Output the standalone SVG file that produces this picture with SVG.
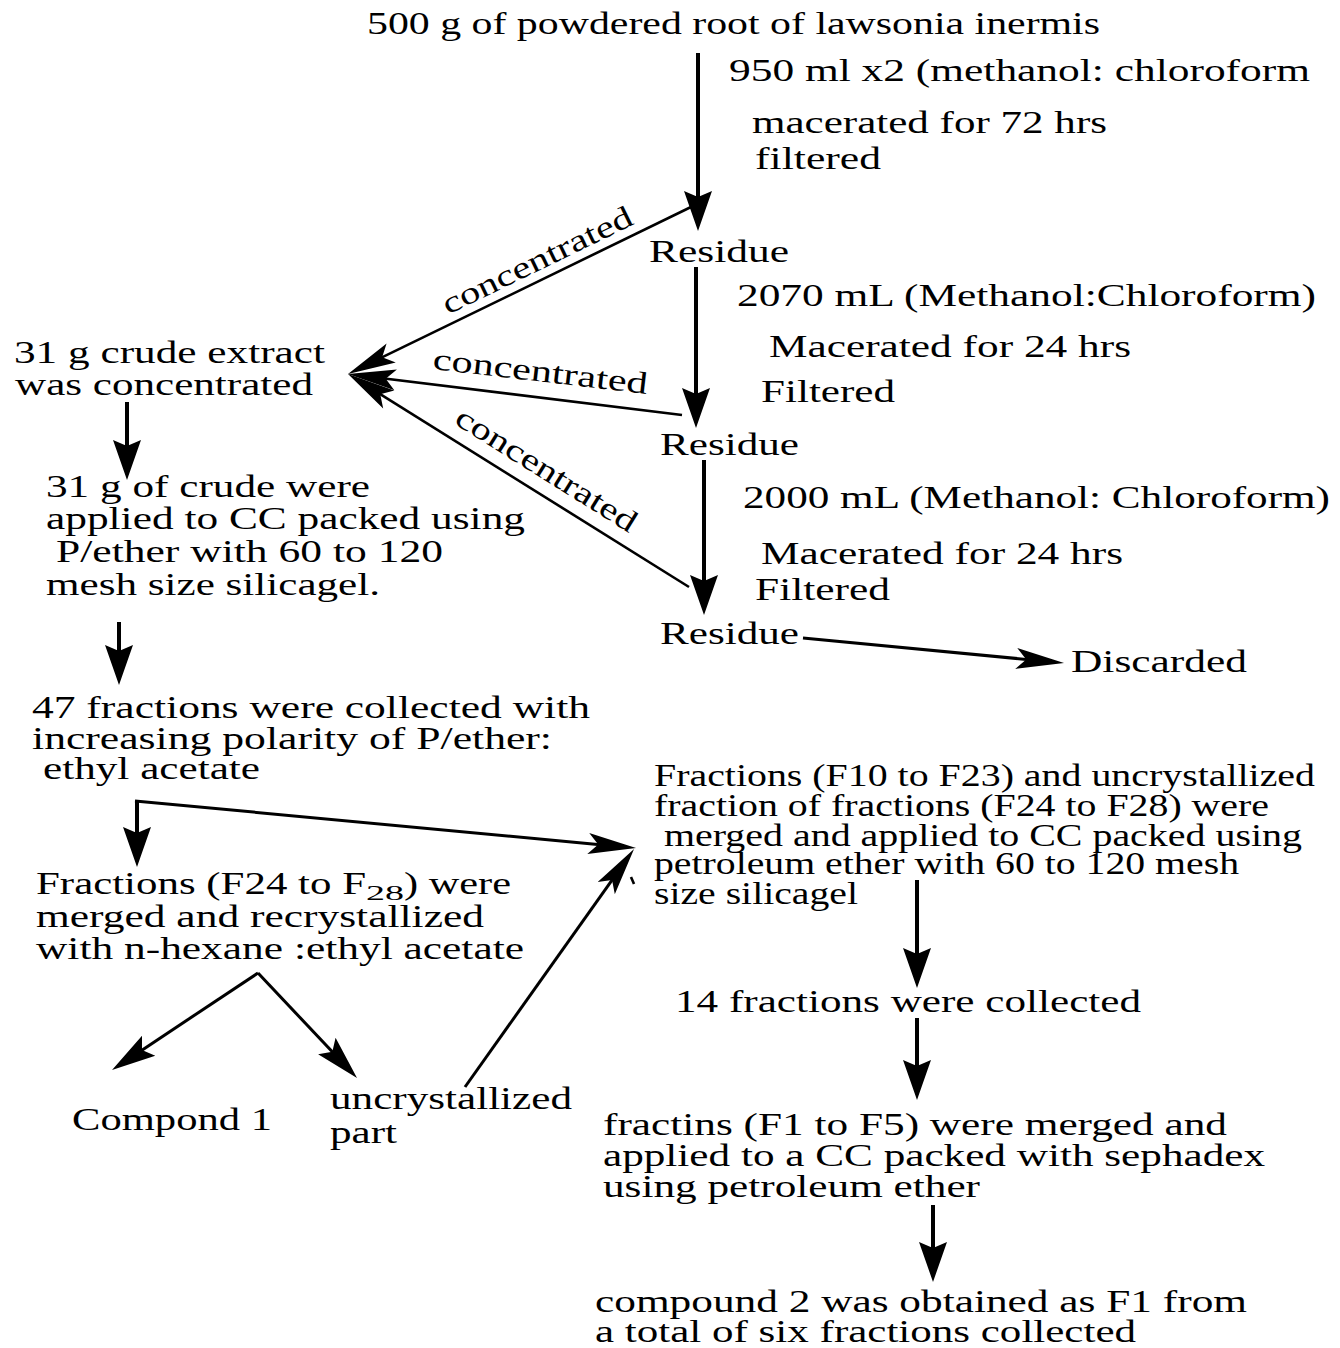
<svg xmlns="http://www.w3.org/2000/svg" width="1340" height="1348" viewBox="0 0 1340 1348">
<style>
text{font-family:"Liberation Serif","Times New Roman",serif;font-size:31px;fill:#000}
.sub{font-size:22px}
.c{fill:none;stroke:#000;stroke-linecap:butt}
.w4{stroke-width:4}
.w3{stroke-width:3}
.w2{stroke-width:2.6}
</style>
<defs>
<marker id="big" markerUnits="userSpaceOnUse" orient="auto" refX="28" refY="0" markerWidth="40" markerHeight="28" overflow="visible"><path d="M0,-14 L40,0 L0,14 L6,0 Z" fill="#000"/></marker>
<marker id="thin" markerUnits="userSpaceOnUse" orient="auto" refX="36" refY="0" markerWidth="48" markerHeight="21" overflow="visible"><path d="M0,-10.5 L48,0 L0,10.5 L10,0 Z" fill="#000"/></marker>
<marker id="mid" markerUnits="userSpaceOnUse" orient="auto" refX="32" refY="0" markerWidth="44" markerHeight="24" overflow="visible"><path d="M0,-12 L44,0 L0,12 L8,0 Z" fill="#000"/></marker>
</defs>
<rect width="1340" height="1348" fill="#fff"/>

<g id="connectors">
<path class="c w4" d="M698,53 L698,219" marker-end="url(#big)"/>
<path class="c w4" d="M696,267 L696,416" marker-end="url(#big)"/>
<path class="c w4" d="M704,460 L704,603" marker-end="url(#big)"/>
<path class="c w2" d="M691,207 L358.8,368.7" marker-end="url(#thin)"/>
<path class="c w2" d="M682,415 L359.9,375.5" marker-end="url(#thin)"/>
<path class="c w2" d="M689,587 L358.2,380.4" marker-end="url(#thin)"/>
<path class="c w3" d="M803,638 L1052.1,661.9" marker-end="url(#thin)"/>
<path class="c w4" d="M127,402 L127,468" marker-end="url(#big)"/>
<path class="c w4" d="M119,622 L119,673" marker-end="url(#big)"/>
<path class="c w4" d="M137,801 L137,855" marker-end="url(#big)"/>
<path class="c w3" d="M135,801 L624.1,846.9" marker-end="url(#thin)"/>
<path class="c w3" d="M465,1087 L627.1,858.8" marker-end="url(#thin)"/>
<path class="c w2" d="M631,877 L634,884"/>
<path class="c w3" d="M258,973 L122,1063.4" marker-end="url(#mid)"/>
<path class="c w3" d="M258,973 L348.8,1069.3" marker-end="url(#mid)"/>
<path class="c w4" d="M917,880 L917,976" marker-end="url(#big)"/>
<path class="c w4" d="M917,1018 L917,1088" marker-end="url(#big)"/>
<path class="c w4" d="M933,1205 L933,1270" marker-end="url(#big)"/>
<text transform="translate(448,315) rotate(-26)" textLength="208" lengthAdjust="spacingAndGlyphs">concentrated</text>
<text transform="translate(432,369) rotate(6.6)" textLength="216" lengthAdjust="spacingAndGlyphs">concentrated</text>
<text transform="translate(453,423) rotate(32)" textLength="208" lengthAdjust="spacingAndGlyphs">concentrated</text>
</g>

<g id="start">
<text x="367" y="34" textLength="733" lengthAdjust="spacingAndGlyphs">500 g of powdered root of lawsonia inermis</text>
</g>
<g id="step1">
<text x="729" y="81" textLength="581" lengthAdjust="spacingAndGlyphs">950 ml x2 (methanol: chloroform</text>
<text x="752" y="133" textLength="355" lengthAdjust="spacingAndGlyphs">macerated for 72 hrs</text>
<text x="755" y="169" textLength="126" lengthAdjust="spacingAndGlyphs">filtered</text>
</g>
<g id="residue1">
<text x="649" y="262" textLength="140" lengthAdjust="spacingAndGlyphs">Residue</text>
</g>
<g id="step2">
<text x="737" y="306" textLength="579" lengthAdjust="spacingAndGlyphs">2070 mL (Methanol:Chloroform)</text>
<text x="769" y="357" textLength="362" lengthAdjust="spacingAndGlyphs">Macerated for 24 hrs</text>
<text x="761" y="402" textLength="134" lengthAdjust="spacingAndGlyphs">Filtered</text>
</g>
<g id="residue2">
<text x="660" y="455" textLength="139" lengthAdjust="spacingAndGlyphs">Residue</text>
</g>
<g id="step3">
<text x="743" y="508" textLength="587" lengthAdjust="spacingAndGlyphs">2000 mL (Methanol: Chloroform)</text>
<text x="761" y="564" textLength="362" lengthAdjust="spacingAndGlyphs">Macerated for 24 hrs</text>
<text x="755" y="600" textLength="135" lengthAdjust="spacingAndGlyphs">Filtered</text>
</g>
<g id="residue3">
<text x="660" y="644" textLength="139" lengthAdjust="spacingAndGlyphs">Residue</text>
</g>
<g id="discarded">
<text x="1071" y="672" textLength="176" lengthAdjust="spacingAndGlyphs">Discarded</text>
</g>
<g id="crude">
<text x="14" y="363" textLength="311" lengthAdjust="spacingAndGlyphs">31 g crude extract</text>
<text x="15" y="395" textLength="298" lengthAdjust="spacingAndGlyphs">was concentrated</text>
</g>
<g id="column1">
<text x="46" y="497" textLength="324" lengthAdjust="spacingAndGlyphs">31 g of crude were</text>
<text x="46" y="529" textLength="479" lengthAdjust="spacingAndGlyphs">applied to CC packed using</text>
<text x="56" y="562" textLength="387" lengthAdjust="spacingAndGlyphs">P/ether with 60 to 120</text>
<text x="46" y="595" textLength="334" lengthAdjust="spacingAndGlyphs">mesh size silicagel.</text>
</g>
<g id="fractions47">
<text x="32" y="718" textLength="558" lengthAdjust="spacingAndGlyphs">47 fractions were collected with</text>
<text x="32" y="749" textLength="520" lengthAdjust="spacingAndGlyphs">increasing polarity of P/ether:</text>
<text x="43" y="779" textLength="217" lengthAdjust="spacingAndGlyphs">ethyl acetate</text>
</g>
<g id="recryst">
<text x="36" y="894" textLength="330" lengthAdjust="spacingAndGlyphs">Fractions (F24 to F</text>
<text class="sub" x="366" y="900" textLength="38" lengthAdjust="spacingAndGlyphs">28</text>
<text x="404" y="894" textLength="107" lengthAdjust="spacingAndGlyphs">) were</text>
<text x="36" y="927" textLength="448" lengthAdjust="spacingAndGlyphs">merged and recrystallized</text>
<text x="36" y="959" textLength="488" lengthAdjust="spacingAndGlyphs">with n-hexane :ethyl acetate</text>
</g>
<g id="compound1">
<text x="72" y="1130" textLength="200" lengthAdjust="spacingAndGlyphs">Compond 1</text>
</g>
<g id="uncryst">
<text x="330" y="1109" textLength="242" lengthAdjust="spacingAndGlyphs">uncrystallized</text>
<text x="330" y="1143" textLength="67" lengthAdjust="spacingAndGlyphs">part</text>
</g>
<g id="merged">
<text x="654" y="786" textLength="661" lengthAdjust="spacingAndGlyphs">Fractions (F10 to F23) and uncrystallized</text>
<text x="654" y="816" textLength="615" lengthAdjust="spacingAndGlyphs">fraction of fractions (F24 to F28) were</text>
<text x="664" y="846" textLength="638" lengthAdjust="spacingAndGlyphs">merged and applied to CC packed using</text>
<text x="654" y="874" textLength="585" lengthAdjust="spacingAndGlyphs">petroleum ether with 60 to 120 mesh</text>
<text x="654" y="904" textLength="204" lengthAdjust="spacingAndGlyphs">size silicagel</text>
</g>
<g id="fractions14">
<text x="675" y="1012" textLength="466" lengthAdjust="spacingAndGlyphs">14 fractions were collected</text>
</g>
<g id="sephadex">
<text x="603" y="1135" textLength="624" lengthAdjust="spacingAndGlyphs">fractins (F1 to F5) were merged and</text>
<text x="603" y="1166" textLength="662" lengthAdjust="spacingAndGlyphs">applied to a CC packed with sephadex</text>
<text x="603" y="1197" textLength="377" lengthAdjust="spacingAndGlyphs">using petroleum ether</text>
</g>
<g id="compound2">
<text x="595" y="1312" textLength="652" lengthAdjust="spacingAndGlyphs">compound 2 was obtained as F1 from</text>
<text x="595" y="1342" textLength="541" lengthAdjust="spacingAndGlyphs">a total of six fractions collected</text>
</g>
</svg>
